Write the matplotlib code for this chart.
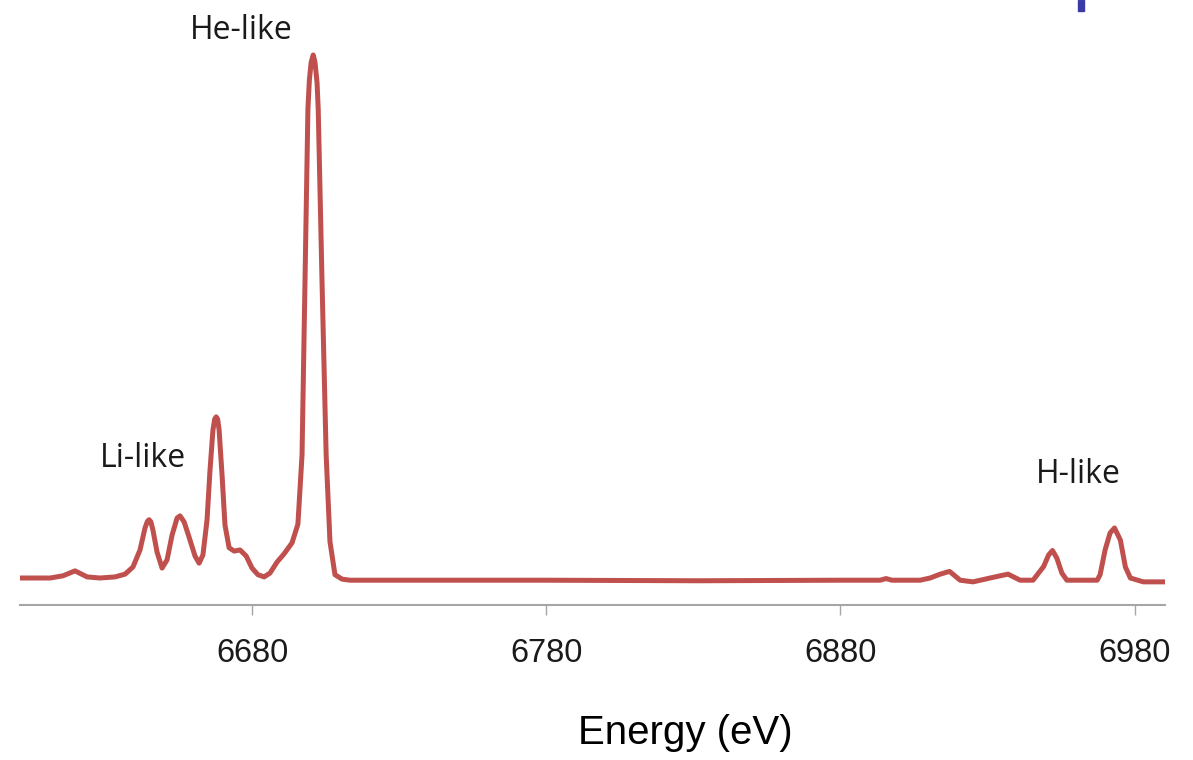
import matplotlib.pyplot as plt
from matplotlib.patches import Rectangle

# spectrum (energy in eV, intensity in arbitrary units)
energy = [6601.0, 6611.2, 6615.6, 6619.7, 6623.8, 6628.2, 6633.3, 6636.7, 6639.4,
          6641.8, 6643.5, 6644.3, 6644.9, 6645.5, 6646.2, 6647.6, 6649.3, 6651.0,
          6652.7, 6654.4, 6655.4, 6656.8, 6658.8, 6660.5, 6661.9, 6663.2, 6664.6,
          6665.6, 6666.6, 6667.2, 6667.7, 6668.2, 6668.7, 6669.7, 6670.7, 6672.1,
          6673.8, 6675.8, 6677.9, 6679.9, 6681.9, 6684.0, 6686.0, 6688.4, 6690.8,
          6693.5, 6695.5, 6696.9, 6697.9, 6698.9, 6699.4, 6700.0, 6700.7, 6701.3,
          6702.0, 6702.4, 6703.7, 6705.1, 6706.4, 6708.1, 6710.5, 6713.2, 6747.0,
          6780.0, 6832.0, 6880.0, 6893.5, 6895.5, 6897.5, 6907.1, 6910.5, 6913.9,
          6917.1, 6920.7, 6925.1, 6930.9, 6934.3, 6937.0, 6941.1, 6945.5, 6949.1,
          6950.8, 6952.1, 6953.6, 6955.3, 6957.0, 6967.3, 6968.3, 6970.0, 6971.7,
          6973.2, 6975.2, 6976.9, 6978.6, 6983.0, 6990.4]
intensity = [4.9, 4.9, 5.3, 6.2, 5.1, 4.9, 5.1, 5.6, 6.9,
             10.0, 14.0, 15.2, 15.5, 15.1, 13.6, 9.6, 6.7, 8.2,
             12.7, 15.8, 16.2, 15.1, 11.8, 8.9, 7.6, 9.1, 15.5,
             24.5, 31.8, 33.8, 34.2, 33.8, 31.8, 23.6, 14.5, 10.4,
             9.8, 10.0, 8.9, 6.7, 5.5, 5.1, 5.8, 7.8, 9.3,
             11.3, 14.7, 27.3, 58.7, 90.2, 95.5, 98.7, 100.0, 98.7,
             95.0, 90.2, 58.7, 27.3, 11.5, 5.5, 4.7, 4.5, 4.5,
             4.5, 4.4, 4.5, 4.5, 4.8, 4.5, 4.5, 4.9, 5.6,
             6.1, 4.5, 4.2, 4.9, 5.3, 5.6, 4.5, 4.5, 7.0,
             9.1, 9.9, 8.5, 5.8, 4.5, 4.5, 5.5, 10.0, 13.1,
             14.0, 11.8, 6.9, 4.9, 4.2, 4.2]

xticks = [6680, 6780, 6880, 6980]
labels = ['He-like', 'Li-like', 'H-like']
label_x = [6676.2, 6642.8, 6960.8]
label_y = [104.5, 26.7, 23.8]

fig = plt.figure(figsize=(11.93, 7.6), dpi=100)
ax = fig.add_axes([0.0168, 0.204, 0.9598, 0.796])

ax.plot(energy, intensity, color='#c0504d', lw=3.6, solid_capstyle='round',
        solid_joinstyle='round')

for txt, lx, ly in zip(labels, label_x, label_y):
    ax.text(lx, ly, txt, ha='center', va='center', fontsize=23,
            family='Open Sans', color='#1a1a1a')

ax.set_xlim(6601.0, 6990.4)
ax.set_ylim(0, 110)
ax.set_xticks(xticks)
ax.set_xticklabels([str(t) for t in xticks], family='Liberation Sans', fontsize=23.5)
ax.set_yticks([])
for s in ['top', 'right', 'left']:
    ax.spines[s].set_visible(False)
ax.spines['bottom'].set_color('#a6a6a6')
ax.spines['bottom'].set_linewidth(1.5)
ax.tick_params(axis='x', direction='out', length=7.5, width=1, color='#a6a6a6',
               pad=16, labelcolor='#1a1a1a')

fig.text(685 / 1193, 1 - 733 / 760, 'Energy (eV)', ha='center', va='center',
         fontsize=29, family='Liberation Sans', color='black')

# small blue mark in the top right corner of the slide
fig.patches.append(Rectangle((1078 / 1193, 1 - 11 / 760), 6 / 1193, 11 / 760,
                             transform=fig.transFigure, color='#3b3ba8'))

fig.savefig('out.png', dpi=100)
